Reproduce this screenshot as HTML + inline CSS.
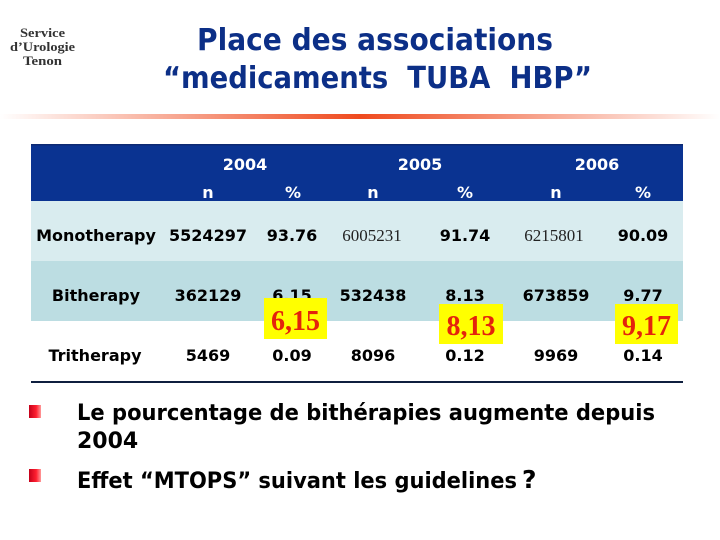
<!DOCTYPE html>
<html>
<head>
<meta charset="utf-8">
<style>
html,body{margin:0;padding:0;background:#fff;}
svg{display:block;}
.b{font-family:"DejaVu Sans","Liberation Sans",sans-serif;font-weight:bold;}
.s{font-family:"Liberation Serif","DejaVu Serif",serif;}
</style>
</head>
<body>
<svg width="720" height="540" viewBox="0 0 720 540" xmlns="http://www.w3.org/2000/svg">
<defs>
<linearGradient id="bar" x1="0" y1="0" x2="1" y2="0">
<stop offset="0" stop-color="#ffffff"/>
<stop offset="0.5" stop-color="#ef4a1e"/>
<stop offset="1" stop-color="#ffffff"/>
</linearGradient>
<linearGradient id="bul" x1="0" y1="0" x2="1" y2="0">
<stop offset="0" stop-color="#c4001a"/>
<stop offset="0.6" stop-color="#ff2030"/>
<stop offset="1" stop-color="#ff9a9a"/>
</linearGradient>
</defs>
<rect width="720" height="540" fill="#fff"/>

<!-- Service text -->
<g class="s" font-weight="bold" font-size="13" fill="#333" text-anchor="start">
<text x="20" y="37" textLength="45" lengthAdjust="spacingAndGlyphs">Service</text>
<text x="10" y="51" textLength="65" lengthAdjust="spacingAndGlyphs">d’Urologie</text>
<text x="23" y="65" textLength="39" lengthAdjust="spacingAndGlyphs">Tenon</text>
</g>

<!-- Title -->
<g class="b" font-size="30" fill="#0c2f87">
<text x="197" y="50" textLength="356" lengthAdjust="spacingAndGlyphs">Place des associations</text>
<text x="163" y="88" textLength="429" lengthAdjust="spacingAndGlyphs">“medicaments&#160;&#160;TUBA&#160;&#160;HBP”</text>
</g>

<!-- gradient bar -->
<rect x="0" y="114" width="720" height="5" fill="url(#bar)"/>

<!-- table backgrounds -->
<rect x="31" y="144" width="652" height="57" fill="#0a3391"/>
<rect x="31" y="144" width="652" height="1.5" fill="#0d2a72"/>
<rect x="31" y="201" width="652" height="60" fill="#d9ecef"/>
<rect x="31" y="261" width="652" height="60" fill="#bcdde2"/>
<rect x="31" y="381" width="652" height="2" fill="#0f1f3f"/>

<!-- header text -->
<g class="b" font-size="16" fill="#fff" text-anchor="middle">
<text x="245" y="170">2004</text>
<text x="420" y="170">2005</text>
<text x="597" y="170">2006</text>
<text x="208" y="198">n</text>
<text x="293" y="198">%</text>
<text x="373" y="198">n</text>
<text x="465" y="198">%</text>
<text x="556" y="198">n</text>
<text x="643" y="198">%</text>
</g>

<!-- body text -->
<g class="b" font-size="16" fill="#000" text-anchor="middle">
<text x="96" y="241">Monotherapy</text>
<text x="208" y="241">5524297</text>
<text x="292" y="241">93.76</text>
<text x="465" y="241">91.74</text>
<text x="643" y="241">90.09</text>

<text x="96" y="301">Bitherapy</text>
<text x="208" y="301">362129</text>
<text x="292" y="301">6.15</text>
<text x="373" y="301">532438</text>
<text x="465" y="301">8.13</text>
<text x="556" y="301">673859</text>
<text x="643" y="301">9.77</text>

<text x="95" y="361">Tritherapy</text>
<text x="208" y="361">5469</text>
<text x="292" y="361">0.09</text>
<text x="373" y="361">8096</text>
<text x="465" y="361">0.12</text>
<text x="556" y="361">9969</text>
<text x="643" y="361">0.14</text>
</g>
<g class="s" font-size="17" fill="#222" text-anchor="middle">
<text x="372" y="241">6005231</text>
<text x="554" y="241">6215801</text>
</g>

<!-- yellow boxes -->
<rect x="264" y="298" width="63" height="41" fill="#ffff00"/>
<rect x="439" y="304" width="64" height="40" fill="#ffff00"/>
<rect x="615" y="304" width="63" height="40" fill="#ffff00"/>
<g class="s" font-weight="bold" font-size="28" fill="#e4230c" text-anchor="middle">
<text x="295.5" y="330">6,15</text>
<text x="471" y="335">8,13</text>
<text x="646.5" y="335">9,17</text>
</g>

<!-- bullets -->
<rect x="29" y="405" width="12" height="13" fill="url(#bul)"/>
<rect x="29" y="469" width="12" height="13" fill="url(#bul)"/>
<g class="b" font-size="22" fill="#000">
<text x="77" y="420" textLength="578" lengthAdjust="spacingAndGlyphs">Le pourcentage de bithérapies augmente depuis</text>
<text x="77" y="448">2004</text>
<text x="77" y="488" textLength="440" lengthAdjust="spacingAndGlyphs">Effet “MTOPS” suivant les guidelines</text>
<text x="522" y="488" font-size="25">?</text>
</g>
</svg>
</body>
</html>
